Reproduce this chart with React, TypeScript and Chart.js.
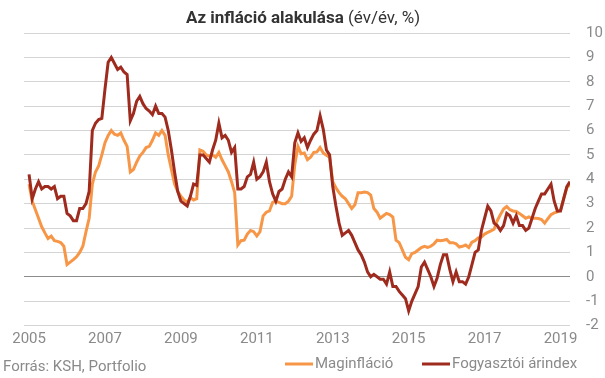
import { useEffect, useRef } from 'react';
import { Chart, registerables } from 'chart.js';

Chart.register(...registerables);

// Monthly data, Jan 2005 – Apr 2019
const startYear = 2005;
const core: number[] = [
  3.8, 3.1, 2.75, 2.4, 2.05, 1.8, 1.57, 1.67, 1.48, 1.45, 1.4, 1.25,
  0.5, 0.6, 0.7, 0.82, 1.0, 1.25, 1.85, 2.4, 3.8, 4.3, 4.55, 5.0,
  5.5, 5.8, 6.0, 5.85, 5.8, 5.9, 5.6, 5.35, 4.3, 4.4, 4.7, 4.95,
  5.1, 5.3, 5.35, 5.6, 5.9, 5.8, 6.0, 5.8, 5.0, 4.4, 3.8, 3.5,
  3.3, 3.15, 3.05, 3.25, 3.15, 3.2, 5.2, 5.15, 5.0, 4.95, 5.0, 4.9,
  5.1, 4.8, 4.55, 4.3, 3.9, 3.45, 1.3, 1.48, 1.5, 1.75, 1.9, 1.85,
  1.67, 1.85, 2.5, 2.65, 2.7, 3.05, 3.1, 3.05, 3.0, 3.0, 3.1, 3.3,
  4.6, 5.35, 5.05, 5.08, 4.8, 4.9, 5.1, 5.12, 5.3, 5.08, 4.98, 4.9,
  3.9, 3.65, 3.45, 3.3, 3.2, 3.0, 2.8, 2.95, 3.45, 3.45, 3.48, 3.45,
  3.35, 2.8, 2.65, 2.4, 2.5, 2.6, 2.55, 2.45, 1.5, 1.4, 1.1, 0.8,
  0.7, 0.95, 1.0, 1.1, 1.2, 1.25, 1.2, 1.25, 1.35, 1.5, 1.48, 1.5,
  1.53, 1.4, 1.4, 1.35, 1.22, 1.25, 1.3, 1.2, 1.42, 1.48, 1.6, 1.63,
  1.75, 1.82, 1.88, 1.95, 2.3, 2.55, 2.78, 2.88, 2.75, 2.7, 2.68, 2.6,
  2.5, 2.4, 2.46, 2.4, 2.4, 2.39, 2.35, 2.2, 2.38, 2.55, 2.62, 2.66,
  2.73, 3.2, 3.65, 3.8,
];
const cpi: number[] = [
  4.2, 3.2, 3.6, 3.9, 3.6, 3.7, 3.7, 3.6, 3.7, 3.2, 3.3, 3.3,
  2.6, 2.5, 2.3, 2.3, 2.8, 2.8, 3.0, 3.5, 6.0, 6.3, 6.45, 6.5,
  7.7, 8.8, 9.0, 8.75, 8.5, 8.6, 8.4, 8.3, 6.4, 6.7, 7.2, 7.4,
  7.1, 6.9, 6.8, 6.65, 7.0, 6.7, 6.7, 6.55, 6.0, 5.2, 4.3, 3.5,
  3.1, 3.0, 2.9, 3.3, 3.8, 3.75, 5.0, 5.0, 4.85, 4.7, 5.2, 5.6,
  6.3, 5.7, 5.8, 5.6, 5.1, 5.3, 3.6, 3.6, 3.7, 4.1, 4.2, 4.7,
  4.0, 4.1, 4.3, 4.7, 3.9, 3.4, 3.1, 3.5, 3.6, 4.0, 4.3, 4.1,
  5.5, 5.9, 5.55, 5.7, 5.3, 5.6, 5.85, 6.0, 6.6, 6.05, 5.2, 5.0,
  3.7, 2.9, 2.2, 1.7, 1.8, 1.9, 1.7, 1.4, 1.1, 0.9, 0.6, 0.2,
  0.0, 0.1, 0.0, -0.1, -0.1, -0.3, 0.2, -0.4, -0.4, -0.6, -0.75, -0.9,
  -1.4, -1.0, -0.7, -0.4, 0.4, 0.6, 0.3, 0.0, -0.4, -0.05, 0.5, 0.9,
  0.9, 0.3, -0.2, 0.2, -0.2, -0.2, -0.3, 0.0, 0.5, 1.0, 1.1, 1.9,
  2.4, 2.9, 2.7, 2.2, 2.1, 1.9, 2.1, 2.6, 2.5, 2.2, 2.5, 2.1,
  2.1, 1.9, 2.0, 2.4, 2.8, 3.1, 3.4, 3.4, 3.6, 3.8, 3.1, 2.7,
  2.7, 3.2, 3.7, 3.9,
];
const yearTicks: number[] = [2005, 2007, 2009, 2011, 2013, 2015, 2017, 2019];
const yTickMin = -2;
const yTickMax = 10;

const seriesNames = ['Maginfláció', 'Fogyasztói árindex'];
const titleBold = 'Az infláció alakulása';
const titleRest = ' (év/év, %)';
const sourceText = 'Forrás: KSH, Portfolio';

const ORANGE = '#F79646';
const RED = '#9E2B1E';
const GREY_TEXT = '#8a8a8a';
const FONT = 'Roboto';

const overlay = {
  id: 'overlay',
  afterDraw(chart: any) {
    const ctx = chart.ctx;
    ctx.save();
    // title
    ctx.textBaseline = 'alphabetic';
    ctx.fillStyle = '#333333';
    ctx.font = `bold 17px ${FONT}`;
    const w1 = ctx.measureText(titleBold).width;
    ctx.font = `17px ${FONT}`;
    const w2 = ctx.measureText(titleRest).width;
    const x0 = 303 - (w1 + w2) / 2;
    ctx.font = `bold 17px ${FONT}`;
    ctx.fillText(titleBold, x0, 23);
    ctx.font = `17px ${FONT}`;
    ctx.fillText(titleRest, x0 + w1, 23);
    // source
    ctx.font = `15px ${FONT}`;
    ctx.fillStyle = GREY_TEXT;
    ctx.textBaseline = 'middle';
    ctx.fillText(sourceText, 3, 367);
    // legend
    const items = [
      { name: seriesNames[0], color: ORANGE, x: 285 },
      { name: seriesNames[1], color: RED, x: 422 },
    ];
    const ly = 364;
    items.forEach((it) => {
      ctx.strokeStyle = it.color;
      ctx.lineWidth = 3;
      ctx.beginPath();
      ctx.moveTo(it.x, ly);
      ctx.lineTo(it.x + 28, ly);
      ctx.stroke();
      ctx.fillStyle = GREY_TEXT;
      ctx.font = `15px ${FONT}`;
      ctx.fillText(it.name, it.x + 30, ly);
    });
    ctx.restore();
  },
};

export default function App() {
  const ref = useRef<HTMLCanvasElement>(null);
  useEffect(() => {
    document.body.style.margin = '0';
    const toPoints = (arr: number[]) => arr.map((v, i) => ({ x: i, y: v }));
    const chart = new Chart(ref.current as HTMLCanvasElement, {
      type: 'line',
      data: {
        datasets: [
          {
            label: seriesNames[0],
            data: toPoints(core),
            borderColor: ORANGE,
            backgroundColor: ORANGE,
            borderWidth: 3,
            pointRadius: 0,
            tension: 0,
            order: 1,
          },
          {
            label: seriesNames[1],
            data: toPoints(cpi),
            borderColor: RED,
            backgroundColor: RED,
            borderWidth: 3,
            pointRadius: 0,
            tension: 0,
            order: 0,
          },
        ],
      },
      options: {
        animation: false,
        responsive: false,
        layout: { padding: { left: 24, top: 33, right: 0, bottom: 0 } },
        plugins: {
          legend: { display: false },
          title: { display: false },
          tooltip: { enabled: false },
        },
        scales: {
          x: {
            type: 'linear',
            min: -1.6,
            max: core.length - 1,
            grid: { display: false, drawTicks: false },
            border: { display: false },
            afterBuildTicks: (scale: any) => {
              scale.ticks = yearTicks.map((y) => ({ value: (y - startYear) * 12 }));
            },
            afterFit: (scale: any) => {
              scale.height = 52.5;
            },
            ticks: {
              autoSkip: false,
              maxRotation: 0,
              padding: 5,
              color: GREY_TEXT,
              font: { family: FONT, size: 15 },
              callback: (v: any) => String(startYear + Math.round(Number(v) / 12)),
            },
          },
          y: {
            position: 'right',
            min: yTickMin,
            max: yTickMax,
            grid: {
              drawTicks: false,
              color: (c: any) => (c.tick && c.tick.value === 0 ? '#8c8c8c' : '#d4d4d4'),
              lineWidth: 1,
            },
            border: { display: false },
            afterFit: (scale: any) => {
              scale.width = 35;
            },
            ticks: {
              stepSize: 1,
              padding: 16,
              color: GREY_TEXT,
              font: { family: FONT, size: 15 },
            },
          },
        },
      },
      plugins: [overlay],
    } as any);
    return () => chart.destroy();
  }, []);
  return (
    <div style={{ width: 605, height: 378 }}>
      <canvas ref={ref} width={605} height={378} />
    </div>
  );
}
